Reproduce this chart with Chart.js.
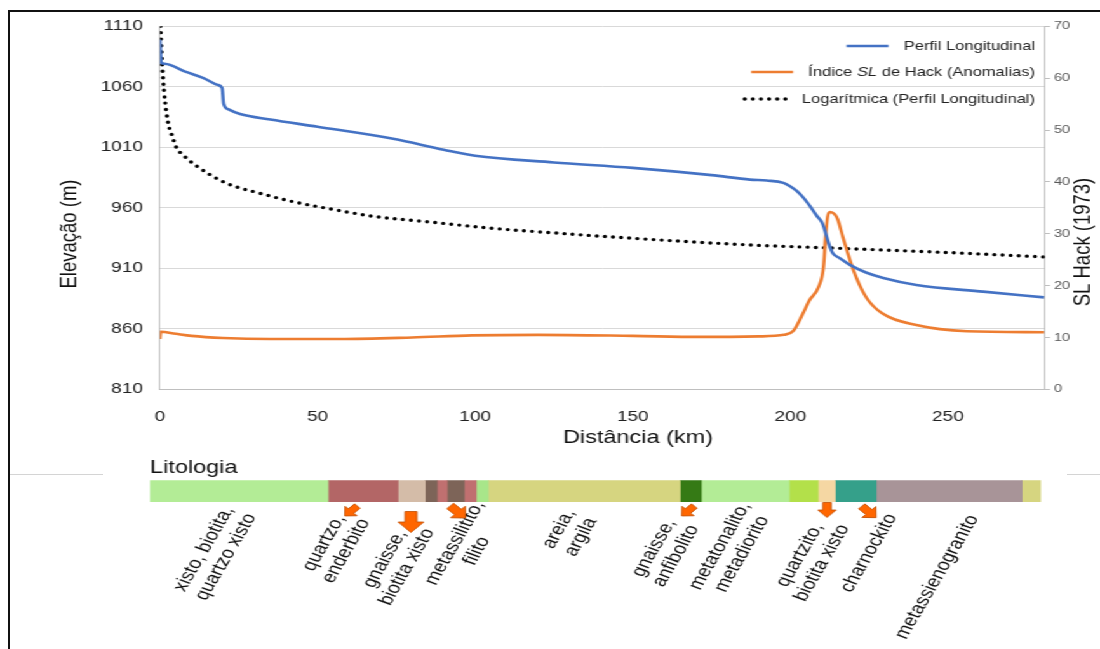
<!DOCTYPE html>
<html>
<head>
<meta charset="utf-8">
<script src="https://cdn.jsdelivr.net/npm/chart.js@4.4.1/dist/chart.umd.min.js"></script>
<style>
  body { margin: 0; background: #fff; overflow: hidden; }
  #page { position: relative; width: 1100px; height: 649px; overflow: hidden; }
  #stretch { position: absolute; left: 0; top: 0; width: 866px; height: 649px; transform: scaleX(1.2702); transform-origin: 0 0; }
  #perfil { position: absolute; left: 0; top: 0; }
  #lito { position: absolute; left: 0; top: 440px; }
  .frame { position: absolute; left: 8px; top: 10px; width: 1200px; height: 700px; border-left: 2px solid #111; border-top: 2px solid #111; }
  .rule { position: absolute; top: 474px; height: 1px; background: #d4d4d4; }
</style>
</head>
<body>
<div id="page">
  <div class="frame"></div>
  <div class="rule" style="left:10px;width:93px"></div>
  <div class="rule" style="left:1067px;width:33px"></div>
  <div id="stretch">
    <canvas id="perfil" width="866" height="460"></canvas>
    <canvas id="lito" width="866" height="209"></canvas>
  </div>
</div>
<script>
// perfil longitudinal (km, m)
const perfilKm   = [0, 0.4, 1.5, 8, 14, 18.4, 19.7, 20.2, 21.6, 25.4, 35, 50, 74, 90, 100, 125, 150, 175, 187.2, 192.5, 197.8, 199.9, 202.1, 204.2, 206.3, 208.5, 210.1, 212.7, 213.5, 215.7, 218.9, 224, 229.5, 240, 261.2, 280.5];
const perfilElev = [1099, 1080, 1079, 1072.5, 1067, 1061.5, 1059, 1046, 1041.5, 1037.5, 1033, 1027, 1017, 1008, 1003, 997.5, 993, 987, 983.3, 982.5, 980.6, 977.8, 973.7, 968.2, 961.2, 953, 947.5, 926.6, 922.4, 918.3, 912.8, 906.5, 902, 896.2, 890.7, 886];

// indice SL de Hack (km, valor)
const slKm    = [0, 0.2, 5, 10, 20, 35, 57, 80, 99, 120, 150, 171, 190, 198, 201, 204, 206, 209, 210.5, 211.2, 211.8, 212.6, 214, 215, 216.7, 220, 224, 229, 240, 256, 280.5];
const slValor = [9.7, 11.1, 10.7, 10.3, 9.9, 9.7, 9.7, 10.0, 10.4, 10.5, 10.3, 10.1, 10.2, 10.5, 11.3, 14.6, 17.1, 19.8, 23.5, 29.5, 33.2, 34.2, 33.8, 32.8, 29.3, 23.0, 17.8, 14.7, 12.4, 11.2, 11.0];

// linha de tendencia logaritmica (km, m)
const logKm   = [0.15, 0.5, 0.9, 1.6, 2.6, 4.2, 4.8, 8, 12.7, 21.2, 31.7, 42.3, 52.9, 68.7, 84.6, 105.7, 126.9, 142.2, 187, 212.6, 250, 280.5];
const logElev = [1110, 1088, 1070, 1048, 1030, 1017, 1012, 1002, 992.6, 980.2, 972, 965, 959.6, 952.6, 948.5, 943, 938.9, 936.1, 929.3, 926.8, 923, 919.4];

const xTicks  = [0, 50, 100, 150, 200, 250];
const xMax    = 280.8;

// litologia ao longo do perfil (extensao de cada trecho)
const litoExtensao = [56.5, 22.2, 8.6, 3.8, 3.2, 5.4, 3.8, 3.8, 60.9, 6.7, 27.9, 9.2, 5.4, 13.0, 46.3, 6.0];
const litoCores    = ['#b3ec96', '#b36666', '#d4bca8', '#7d6458', '#c07070', '#7d6458', '#c07070', '#a8e68a',
                      '#d6d580', '#357a15', '#b3ec96', '#b3e04a', '#f5d7a3', '#35a08a', '#a89498', '#d6d580'];
const litoRotulos  = [['xisto, biotita,', 'quartzo xisto'], ['quartzo,', 'enderbito'], ['gnaisse,', 'biotita xisto'],
                      ['metassilitito,', 'filito'], ['areia,', 'argila'], ['gnaisse,', 'anfibolito'],
                      ['metatonalito,', 'metadiorito'], ['quartzito,', 'biotita xisto'], ['charnockito'], ['metassienogranito']];
const litoRotuloPos = [20.6, 58.7, 78.0, 100.2, 133.2, 163.4, 184.3, 209.7, 228.1, 249.7];
const anomaliaPos   = [63.8, 82.8, 97.7, 170.7, 214.8, 228.1];

// layout (reference pixels are stretched horizontally)
const W = 866;
const S = 1100 / W;
const px = v => v / S;
const rotuloDy  = [51, 45, 61, 45, 31, 50, 48, 57, 51, 75];
const setaDy    = [9, 20, 10, 9, 8, 10];
const setaTam   = [14, 21, 17, 14, 15, 16];
const setaAng   = [135, 90, 45, 135, 90, 45];
const legendaY  = [46, 72, 99];

const FONT = '"Liberation Sans", Arial, sans-serif';
const toXY = (xs, ys) => xs.map((x, i) => ({ x: x, y: ys[i] }));

const legendaTitulos = {
  id: 'legendaTitulos',
  afterDraw(chart) {
    const ctx = chart.ctx;
    const right = px(1035);
    ctx.save();
    ctx.textBaseline = 'middle';
    chart.data.datasets.forEach((ds, i) => {
      const y = legendaY[i];
      const parts = ds.label.split(/(SL)/).filter(p => p);
      let total = 0;
      parts.forEach(p => {
        ctx.font = (p === 'SL' ? 'italic ' : '') + '13px ' + FONT;
        total += ctx.measureText(p).width;
      });
      let x = right - total;
      const x0 = x;
      ctx.fillStyle = '#222';
      ctx.textAlign = 'left';
      parts.forEach(p => {
        ctx.font = (p === 'SL' ? 'italic ' : '') + '13px ' + FONT;
        ctx.fillText(p, x, y);
        x += ctx.measureText(p).width;
      });
      ctx.beginPath();
      ctx.strokeStyle = ds.borderColor;
      ctx.lineWidth = ds.borderWidth;
      ctx.lineCap = ds.borderCapStyle || 'butt';
      ctx.setLineDash(ds.borderDash || []);
      ctx.moveTo(x0 - 12 - 33, y);
      ctx.lineTo(x0 - 12, y);
      ctx.stroke();
      ctx.setLineDash([]);
    });

    ctx.fillStyle = '#111';
    ctx.font = '18.5px ' + FONT;
    ctx.textAlign = 'center';
    ctx.fillText('Distância (km)', px(638), 438);
    ctx.save();
    ctx.translate(px(70), 234);
    ctx.rotate(-Math.PI / 2);
    ctx.fillText('Elevação (m)', 0, 0);
    ctx.restore();
    ctx.save();
    ctx.translate(px(1083), 242);
    ctx.rotate(-Math.PI / 2);
    ctx.fillText('SL Hack (1973)', 0, 0);
    ctx.restore();
    ctx.restore();
  }
};

new Chart(document.getElementById('perfil'), {
  type: 'line',
  data: {
    datasets: [
      { label: 'Perfil Longitudinal', data: toXY(perfilKm, perfilElev), yAxisID: 'y',
        borderColor: '#4472c4', borderWidth: 2.6, pointRadius: 0, cubicInterpolationMode: 'monotone' },
      { label: 'Índice SL de Hack (Anomalias)', data: toXY(slKm, slValor), yAxisID: 'y1',
        borderColor: '#ed7d31', borderWidth: 2.6, pointRadius: 0, cubicInterpolationMode: 'monotone' },
      { label: 'Logarítmica (Perfil Longitudinal)', data: toXY(logKm, logElev), yAxisID: 'y',
        borderColor: '#000', borderWidth: 3.4, borderDash: [0, 6.4], borderCapStyle: 'round',
        pointRadius: 0, cubicInterpolationMode: 'monotone' }
    ]
  },
  options: {
    responsive: false,
    animation: false,
    devicePixelRatio: 1,
    layout: { padding: { top: 26.3, left: 0, right: 0, bottom: 0 } },
    plugins: { legend: { display: false }, tooltip: { enabled: false } },
    scales: {
      x: {
        type: 'linear', min: 0, max: xMax,
        afterBuildTicks: s => { s.ticks = xTicks.map(v => ({ value: v })); },
        ticks: { padding: 19, maxRotation: 0, color: '#222', font: { family: FONT, size: 15 }, callback: v => String(v) },
        grid: { drawOnChartArea: false, drawTicks: false },
        border: { color: '#bfbfbf' },
        afterFit: s => { s.height = 460 - 389.3; }
      },
      y: {
        position: 'left', min: 810, max: 1110,
        ticks: { stepSize: 50, padding: px(17), color: '#222', font: { family: FONT, size: 15 }, callback: v => String(v) },
        grid: { color: '#d9d9d9', drawTicks: false },
        border: { color: '#bfbfbf' },
        afterFit: s => { s.width = px(160); }
      },
      y1: {
        position: 'right', min: 0, max: 70,
        ticks: { stepSize: 10, padding: 3, color: '#595959', font: { family: FONT, size: 11.5 } },
        grid: { drawOnChartArea: false, tickLength: 4, color: '#bfbfbf' },
        border: { color: '#bfbfbf' },
        afterFit: s => { s.width = W - px(1045); }
      }
    }
  },
  plugins: [legendaTitulos]
});

const rotulosLito = {
  id: 'rotulosLito',
  afterDatasetsDraw(chart) {
    const ctx = chart.ctx;
    const xs = chart.scales.x;
    const base = chart.chartArea.bottom;
    ctx.save();
    ctx.font = '16.5px ' + FONT;
    ctx.fillStyle = '#111';
    ctx.textAlign = 'center';
    ctx.textBaseline = 'middle';
    litoRotulos.forEach((linhas, i) => {
      ctx.save();
      ctx.translate(xs.getPixelForValue(litoRotuloPos[i]), base + rotuloDy[i]);
      ctx.rotate(-65 * Math.PI / 180);
      linhas.forEach((t, j) => ctx.fillText(t, 0, (j - (linhas.length - 1) / 2) * 19));
      ctx.restore();
    });
    anomaliaPos.forEach((p, i) => {
      const s = setaTam[i];
      ctx.save();
      ctx.translate(xs.getPixelForValue(p), base + setaDy[i]);
      ctx.rotate(setaAng[i] * Math.PI / 180);
      ctx.beginPath();
      ctx.moveTo(-s / 2, -s * 0.22);
      ctx.lineTo(0, -s * 0.22);
      ctx.lineTo(0, -s * 0.48);
      ctx.lineTo(s / 2, 0);
      ctx.lineTo(0, s * 0.48);
      ctx.lineTo(0, s * 0.22);
      ctx.lineTo(-s / 2, s * 0.22);
      ctx.closePath();
      ctx.fillStyle = '#ff6600';
      ctx.fill();
      ctx.strokeStyle = '#c24e00';
      ctx.lineWidth = 0.8;
      ctx.stroke();
      ctx.restore();
    });
    ctx.restore();
  }
};

new Chart(document.getElementById('lito'), {
  type: 'bar',
  data: {
    labels: ['Litologia'],
    datasets: litoExtensao.map((v, i) => ({
      data: [v], backgroundColor: litoCores[i], borderWidth: 0,
      barPercentage: 1, categoryPercentage: 1
    }))
  },
  options: {
    indexAxis: 'y',
    responsive: false,
    animation: false,
    devicePixelRatio: 1,
    layout: { padding: { left: px(150), right: W - px(1041), top: 17, bottom: 147 } },
    plugins: {
      legend: { display: false },
      tooltip: { enabled: false },
      title: { display: true, text: 'Litologia', align: 'start', color: '#111',
               font: { family: FONT, size: 18.5, weight: 'normal' }, padding: { top: 0, bottom: 1 } }
    },
    scales: {
      x: { display: false, stacked: true, min: 0, max: litoExtensao.reduce((a, b) => a + b, 0) },
      y: { display: false, stacked: true }
    }
  },
  plugins: [rotulosLito]
});
</script>
</body>
</html>
